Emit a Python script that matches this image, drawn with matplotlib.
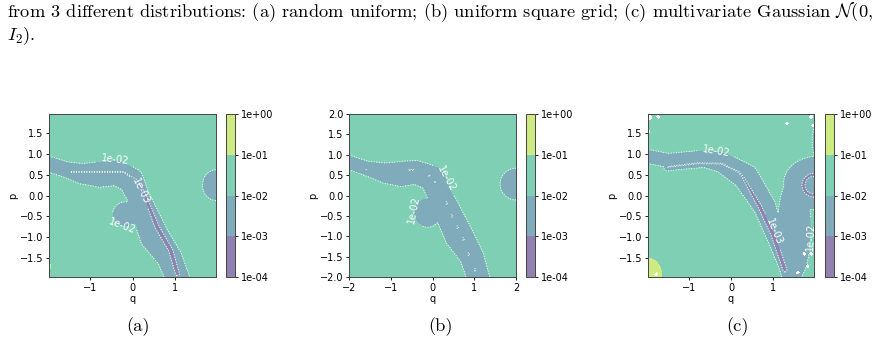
import numpy as np
import matplotlib
matplotlib.use("Agg")
import matplotlib.pyplot as plt

plt.rcParams['mathtext.fontset'] = 'cm'

levels = [1e-4, 1e-3, 1e-2, 1e-1, 1e0]
level_fmt = '%.0e'
floor_log = -1.5   # background error (green band)

# ---- panel (a): random uniform -------------------------------------------
lim_a = 1.97
band_a_q = [-2.1, -1.58, -1.18, -0.78, -0.38, -0.04, 0.12, 0.52, 0.87, 1.1]
band_a_p = [0.80, 0.63, 0.525, 0.51, 0.55, 0.38, 0.0, -1.0, -1.5, -2.1]
band_a_w = [0.19, 0.19, 0.25, 0.31, 0.31, 0.30, 0.27, 0.35, 0.30, 0.28]
band_a_depth = [-2.8] * 10
ridge_a_q = [-1.46, -0.78, -0.22, 0.1, 0.3, 0.58, 0.9, 1.06]
ridge_a_p = [0.57, 0.57, 0.57, 0.37, -0.03, -0.76, -1.32, -1.89]
ridge_a_depth = [-3.01, -3.015, -3.015, -3.015, -3.15, -3.35, -3.35, -3.3]
# ellipses: q, p, rq, rp, log-depth
blobs_a = [(-0.15, -0.45, 0.32, 0.30, -2.5), (1.97, 0.25, 0.32, 0.37, -2.3)]
# hills: q, p, rq, rp, log-peak
hills_a = [(-2.0, -1.72, 0.07, 0.07, -0.8)]
holes_a = []
lab2_a = [(-0.4, 0.86), (-0.25, -0.8)]
lab3_a = [(0.22, 0.12)]

# ---- panel (b): uniform square grid --------------------------------------
lim_b = 2.0
band_b_q = [-2.1, -1.58, -1.1, -0.75, -0.4, 0.0, 0.18, 0.64, 0.94, 1.12]
band_b_p = [0.85, 0.665, 0.545, 0.53, 0.57, 0.42, 0.0, -1.0, -1.5, -2.1]
band_b_w = [0.17, 0.18, 0.255, 0.31, 0.29, 0.31, 0.30, 0.35, 0.29, 0.27]
band_b_depth = [-2.8] * 10
ridge_b_q = []
ridge_b_p = []
ridge_b_depth = []
blobs_b = [(-0.12, -0.42, 0.33, 0.36, -2.5), (2.0, 0.28, 0.38, 0.39, -2.3),
           # grid-point minima along the ridge
           (-0.5, 0.63, 0.16, 0.035, -3.2), (-0.08, 0.49, 0.04, 0.05, -3.2),
           (0.06, 0.34, 0.035, 0.05, -3.15), (0.34, -0.19, 0.04, 0.09, -3.25),
           (0.47, -0.5, 0.04, 0.09, -3.25), (0.6, -0.78, 0.04, 0.09, -3.25),
           (0.74, -1.07, 0.04, 0.09, -3.25), (0.87, -1.44, 0.04, 0.09, -3.25),
           (1.02, -1.83, 0.04, 0.09, -3.25), (-1.58, 0.63, 0.05, 0.03, -3.1)]
hills_b = []
holes_b = []
lab2_b = [(0.37, 0.43), (-0.38, -0.36)]
lab3_b = []

# ---- panel (c): multivariate Gaussian ------------------------------------
lim_c = 1.97
band_c_q = [-2.1, -1.5, -1.05, -0.63, -0.2, 0.35, 0.8, 1.1, 1.3, 1.42]
band_c_p = [0.97, 0.85, 0.85, 0.89, 0.8, 0.45, -0.27, -1.15, -1.7, -2.1]
band_c_w = [0.17, 0.17, 0.21, 0.21, 0.25, 0.31, 0.27, 0.19, 0.17, 0.17]
band_c_depth = [-2.8] * 10
ridge_c_q = [-1.5, -0.79, -0.22, 0.18, 0.28, 0.69, 1.0, 1.28]
ridge_c_p = [0.69, 0.78, 0.77, 0.57, 0.45, -0.28, -0.95, -1.8]
ridge_c_depth = [-3.01, -3.015, -3.015, -3.015, -3.03, -3.25, -3.35, -3.3]
blobs_c = [(1.5, -0.8, 0.4, 1.3, -2.5), (2.05, 0.3, 0.8, 0.65, -2.4),
           (2.05, 1.3, 0.12, 0.45, -2.2)]
ring_c = (1.97, 0.25, 0.25, 0.08, -3.3)   # q, p, radius, width, log-depth
hills_c = [(-1.97, -1.97, 0.33, 0.45, -0.5)]
holes_c = [(-1.93, 1.89, 0.07), (-1.73, 1.9, 0.05), (-1.99, 1.55, 0.07),
           (1.33, 1.74, 0.05), (1.9, 1.9, 0.06), (1.94, 1.69, 0.05),
           (1.74, -1.41, 0.05), (1.9, -1.41, 0.05), (1.59, -1.87, 0.05),
           (1.82, -1.71, 0.05), (-1.98, -1.64, 0.05), (-1.98, -1.84, 0.05),
           (-1.78, -1.9, 0.05)]
lab2_c = [(-0.34, 1.09), (1.84, -1.0)]
lab3_c = [(0.98, -0.9)]

# viridis at the (log) mid-point of each band, blended 60% over white
cmap = plt.get_cmap('viridis')
fill_colors = [0.6 * np.array(cmap(v)[:3]) + 0.4 for v in (0.125, 0.375, 0.625, 0.875)]


def polyline_field(Q, P, qs, ps, ws, deps):
    out = np.full(Q.shape, np.inf)
    for i in range(len(qs) - 1):
        dx, dy = qs[i + 1] - qs[i], ps[i + 1] - ps[i]
        t = np.clip(((Q - qs[i]) * dx + (P - ps[i]) * dy) / (dx * dx + dy * dy), 0, 1)
        d = np.hypot(Q - qs[i] - t * dx, P - ps[i] - t * dy)
        w = ws[i] * (1 - t) + ws[i + 1] * t
        dep = deps[i] * (1 - t) + deps[i + 1] * t
        out = np.minimum(out, dep + (-2 - dep) * (d / w) ** 2)
    return out


def build_field(lim, band, ridge, blobs, hills, holes, ring=None):
    g = np.linspace(-lim, lim, 320)
    Q, P = np.meshgrid(g, g)
    f = np.full(Q.shape, floor_log)
    f = np.minimum(f, polyline_field(Q, P, *band))
    if len(ridge[0]):
        f = np.minimum(f, polyline_field(Q, P, ridge[0], ridge[1],
                                         [0.1] * len(ridge[0]), ridge[2]))
    for q0, p0, rq, rp, dep in blobs:
        r2 = ((Q - q0) / rq) ** 2 + ((P - p0) / rp) ** 2
        f = np.minimum(f, dep + (-2 - dep) * r2)
    if ring is not None:
        q0, p0, R, wr, dep = ring
        r = np.hypot(Q - q0, P - p0)
        f = np.minimum(f, dep + (-2 - dep) * ((r - R) / wr) ** 2)
    for q0, p0, rq, rp, peak in hills:
        r2 = ((Q - q0) / rq) ** 2 + ((P - p0) / rp) ** 2
        f = np.maximum(f, peak + (-1 - peak) * r2)
    Z = 10.0 ** f
    mask = np.zeros(Q.shape, bool)
    for q0, p0, r in holes:
        mask |= np.hypot(Q - q0, P - p0) < r
    return Q, P, np.ma.masked_array(Z, mask)


W, H = 881, 345
fig = plt.figure(figsize=(W / 100, H / 100), dpi=100)


def px_box(x0, x1, y0, y1):
    return [x0 / W, 1 - y1 / H, (x1 - x0) / W, (y1 - y0) / H]


panels = [
    (lim_a, (band_a_q, band_a_p, band_a_w, band_a_depth), (ridge_a_q, ridge_a_p, ridge_a_depth),
     blobs_a, hills_a, holes_a, None, lab2_a, lab3_a, (49, 216), (226, 235),
     [-1, 0, 1], [-1.5, -1.0, -0.5, 0.0, 0.5, 1.0, 1.5]),
    (lim_b, (band_b_q, band_b_p, band_b_w, band_b_depth), (ridge_b_q, ridge_b_p, ridge_b_depth),
     blobs_b, hills_b, holes_b, None, lab2_b, lab3_b, (349, 516), (526, 535),
     [-2, -1, 0, 1, 2], [-2.0, -1.5, -1.0, -0.5, 0.0, 0.5, 1.0, 1.5, 2.0]),
    (lim_c, (band_c_q, band_c_p, band_c_w, band_c_depth), (ridge_c_q, ridge_c_p, ridge_c_depth),
     blobs_c, hills_c, holes_c, ring_c, lab2_c, lab3_c, (648, 814), (825, 834),
     [-1, 0, 1], [-1.5, -1.0, -0.5, 0.0, 0.5, 1.0, 1.5]),
]

for (lim, band, ridge, blobs, hills, holes, ring, lab2, lab3,
     axx, cbx, xt, yt) in panels:
    Q, P, Z = build_field(lim, band, ridge, blobs, hills, holes, ring)
    ax = fig.add_axes(px_box(axx[0], axx[1], 114, 277))
    cf = ax.contourf(Q, P, Z, levels=levels, colors=fill_colors)
    # one line set per level so manual labels find their own level
    for lev, pos in [(1e-2, lab2), (1e-3, lab3)]:
        cl = ax.contour(Q, P, Z, levels=[lev], colors='white',
                        linestyles='dotted', linewidths=0.7)
        if pos:
            ax.clabel(cl, manual=pos, fmt=level_fmt, fontsize=7,
                      colors='white', inline=True)
    ax.set_xlim(-lim, lim)
    ax.set_ylim(-lim, lim)
    ax.set_xticks(xt)
    ax.set_yticks(yt)
    ax.set_xlabel('q', fontsize=7, labelpad=1)
    ax.set_ylabel('p', fontsize=7, labelpad=1)
    ax.tick_params(labelsize=7, length=2.5, width=0.6, pad=1.5)
    for s in ax.spines.values():
        s.set_linewidth(0.7)
        s.set_color('#444444')
    cax = fig.add_axes(px_box(cbx[0], cbx[1], 114, 277))
    cb = fig.colorbar(cf, cax=cax, ticks=levels, format=level_fmt)
    cb.ax.tick_params(labelsize=7, length=2.5, width=0.6, pad=1.5)
    cb.outline.set_linewidth(0.7)
    cb.outline.set_edgecolor('#444444')

line1 = fig.text(7 / W, 1 - 12 / H,
                 r'from 3 different distributions: (a) random uniform; (b) uniform square grid; '
                 r'(c) multivariate Gaussian $\mathcal{N}(\mathbf{0}$,',
                 family='cmr10', fontsize=11, va='center', ha='left')
fig.canvas.draw()
wpx = line1.get_window_extent().width
fs = 11 * 867 / wpx
line1.set_fontsize(fs)
fig.text(7 / W, 1 - 36 / H, r'$I_2$).', family='cmr10', fontsize=fs,
         va='center', ha='left')

for cx, lab in zip([138, 440, 738], ['(a)', '(b)', '(c)']):
    fig.text(cx / W, 1 - 327 / H, lab, family='cmr10', fontsize=fs,
             ha='center', va='center')

fig.savefig('out.png', dpi=100)
